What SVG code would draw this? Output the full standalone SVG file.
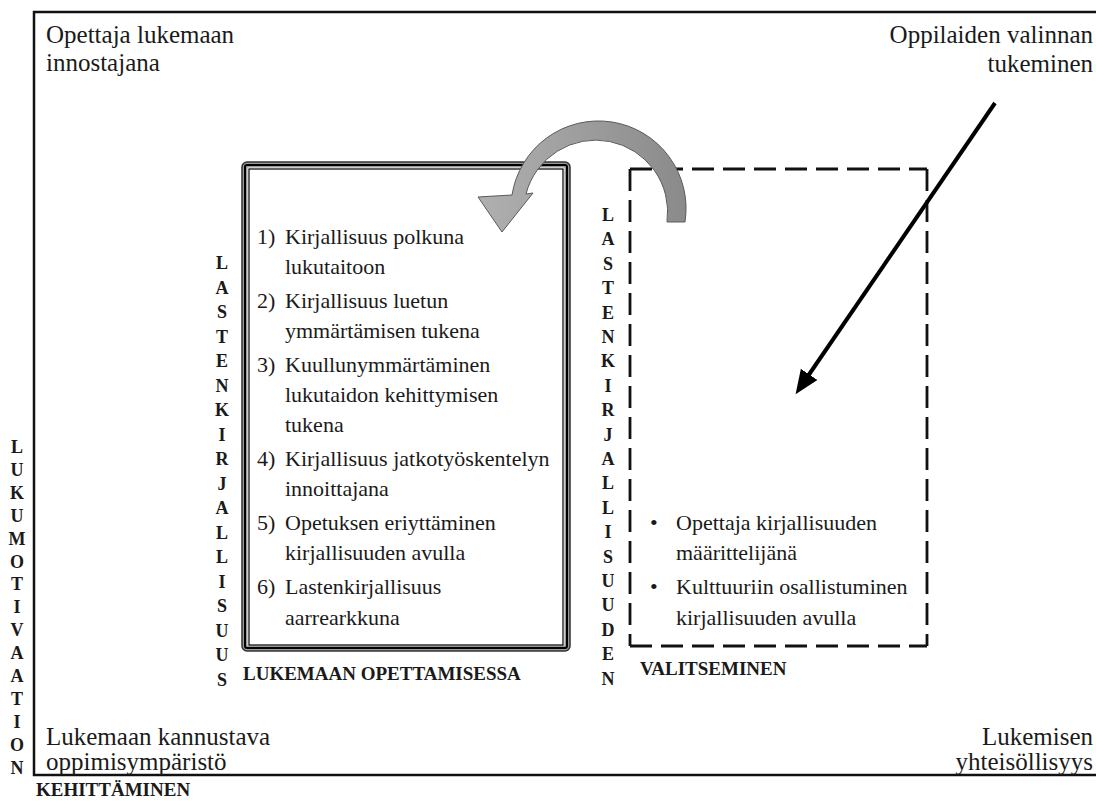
<svg xmlns="http://www.w3.org/2000/svg" width="1096" height="802" viewBox="0 0 1096 802">
<defs>
<style>
text{font-family:"Liberation Serif","Tinos","Times New Roman","DejaVu Serif",serif;fill:#1a1a1a}
.t{font-size:22px}
.c{font-size:25px}
.b{font-size:19px;font-weight:bold}
.v{font-size:18px;font-weight:bold;text-anchor:middle}
.dash{stroke:#111;stroke-width:2.8;stroke-dasharray:22 9;fill:none}
</style>
<linearGradient id="g" x1="0" y1="0" x2="1" y2="0">
<stop offset="0" stop-color="#b0b0b0"/>
<stop offset="1" stop-color="#8a8a8a"/>
</linearGradient>
<marker id="ah" markerUnits="userSpaceOnUse" markerWidth="26" markerHeight="24" refX="2" refY="12" orient="auto">
<path d="M0,2 L24,12 L0,22 Z" fill="#000"/>
</marker>
</defs>
<rect width="1096" height="802" fill="#fff"/>

<g id="frame">
<rect x="34" y="12" width="1075" height="763" fill="none" stroke="#111" stroke-width="2.5"/>
<text class="c" x="46" y="43">Opettaja lukemaan</text>
<text class="c" x="46" y="71">innostajana</text>
<text class="c" x="1093" y="43" text-anchor="end">Oppilaiden valinnan</text>
<text class="c" x="1093" y="72" text-anchor="end">tukeminen</text>
<text class="c" x="46" y="745">Lukemaan kannustava</text>
<text class="c" x="46" y="770">oppimisympäristö</text>
<text class="c" x="1093" y="745" text-anchor="end">Lukemisen</text>
<text class="c" x="1093" y="770" text-anchor="end">yhteisöllisyys</text>
</g>

<g id="label-lukumotivaatio">
<text class="v"><tspan x="17" y="453">L</tspan><tspan x="17" dy="22.9">U</tspan><tspan x="17" dy="22.9">K</tspan><tspan x="17" dy="22.9">U</tspan><tspan x="17" dy="22.9">M</tspan><tspan x="17" dy="22.9">O</tspan><tspan x="17" dy="22.9">T</tspan><tspan x="17" dy="22.9">I</tspan><tspan x="17" dy="22.9">V</tspan><tspan x="17" dy="22.9">A</tspan><tspan x="17" dy="22.9">A</tspan><tspan x="17" dy="22.9">T</tspan><tspan x="17" dy="22.9">I</tspan><tspan x="17" dy="22.9">O</tspan><tspan x="17" dy="22.9">N</tspan></text>
<text class="b" x="36" y="796">KEHITTÄMINEN</text>
</g>

<g id="box-opettaminen">
<rect x="242" y="162" width="328" height="489" rx="5" fill="#9a9a9a" stroke="#333" stroke-width="1.5"/>
<rect x="245" y="165" width="322" height="483" rx="2" fill="#9a9a9a" stroke="#000" stroke-width="2"/>
<rect x="247.5" y="167.5" width="317" height="478" fill="#fff"/>
<rect x="249" y="169" width="314" height="476" fill="#fff" stroke="#000" stroke-width="1.2"/>
<text class="t" x="257" y="244">1)</text><text class="t" x="285" y="244">Kirjallisuus polkuna</text>
<text class="t" x="285" y="274">lukutaitoon</text>
<text class="t" x="257" y="308">2)</text><text class="t" x="285" y="308">Kirjallisuus luetun</text>
<text class="t" x="285" y="338">ymmärtämisen tukena</text>
<text class="t" x="257" y="372">3)</text><text class="t" x="285" y="372">Kuullunymmärtäminen</text>
<text class="t" x="285" y="402">lukutaidon kehittymisen</text>
<text class="t" x="285" y="432">tukena</text>
<text class="t" x="257" y="466">4)</text><text class="t" x="285" y="466">Kirjallisuus jatkotyöskentelyn</text>
<text class="t" x="285" y="496">innoittajana</text>
<text class="t" x="257" y="530">5)</text><text class="t" x="285" y="530">Opetuksen eriyttäminen</text>
<text class="t" x="285" y="560">kirjallisuuden avulla</text>
<text class="t" x="257" y="594">6)</text><text class="t" x="285" y="594">Lastenkirjallisuus</text>
<text class="t" x="285" y="625">aarrearkkuna</text>
<text class="v"><tspan x="222" y="269">L</tspan><tspan x="222" dy="24.5">A</tspan><tspan x="222" dy="24.5">S</tspan><tspan x="222" dy="24.5">T</tspan><tspan x="222" dy="24.5">E</tspan><tspan x="222" dy="24.5">N</tspan><tspan x="222" dy="24.5">K</tspan><tspan x="222" dy="24.5">I</tspan><tspan x="222" dy="24.5">R</tspan><tspan x="222" dy="24.5">J</tspan><tspan x="222" dy="24.5">A</tspan><tspan x="222" dy="24.5">L</tspan><tspan x="222" dy="24.5">L</tspan><tspan x="222" dy="24.5">I</tspan><tspan x="222" dy="24.5">S</tspan><tspan x="222" dy="24.5">U</tspan><tspan x="222" dy="24.5">U</tspan><tspan x="222" dy="24.5">S</tspan></text>
<text class="b" x="243" y="680">LUKEMAAN OPETTAMISESSA</text>
</g>

<g id="box-valitseminen">
<path class="dash" d="M630,169 H927"/>
<path class="dash" d="M630,169 V646"/>
<path class="dash" d="M630,646 H927"/>
<path class="dash" d="M927,169 V646"/>
<text class="t" x="650" y="530">•</text><text class="t" x="676" y="530">Opettaja kirjallisuuden</text>
<text class="t" x="676" y="560">määrittelijänä</text>
<text class="t" x="650" y="594">•</text><text class="t" x="676" y="594">Kulttuuriin osallistuminen</text>
<text class="t" x="676" y="625">kirjallisuuden avulla</text>
<text class="v"><tspan x="608" y="221">L</tspan><tspan x="608" dy="24.4">A</tspan><tspan x="608" dy="24.4">S</tspan><tspan x="608" dy="24.4">T</tspan><tspan x="608" dy="24.4">E</tspan><tspan x="608" dy="24.4">N</tspan><tspan x="608" dy="24.4">K</tspan><tspan x="608" dy="24.4">I</tspan><tspan x="608" dy="24.4">R</tspan><tspan x="608" dy="24.4">J</tspan><tspan x="608" dy="24.4">A</tspan><tspan x="608" dy="24.4">L</tspan><tspan x="608" dy="24.4">L</tspan><tspan x="608" dy="24.4">I</tspan><tspan x="608" dy="24.4">S</tspan><tspan x="608" dy="24.4">U</tspan><tspan x="608" dy="24.4">U</tspan><tspan x="608" dy="24.4">D</tspan><tspan x="608" dy="24.4">E</tspan><tspan x="608" dy="24.4">N</tspan></text>
<text class="b" x="640" y="675">VALITSEMINEN</text>
</g>

<g id="connectors">
<path id="curved-arrow" d="M685,222 A87.5,87.5 0 0 0 512,195 L478,197 L502,232 L533,193 L526,194 A72,72 0 0 1 667,222 Z" fill="url(#g)" stroke="#5a5a5a" stroke-width="1"/>
<line id="straight-arrow" x1="995" y1="103" x2="808" y2="376" stroke="#000" stroke-width="4" marker-end="url(#ah)"/>
</g>
</svg>
